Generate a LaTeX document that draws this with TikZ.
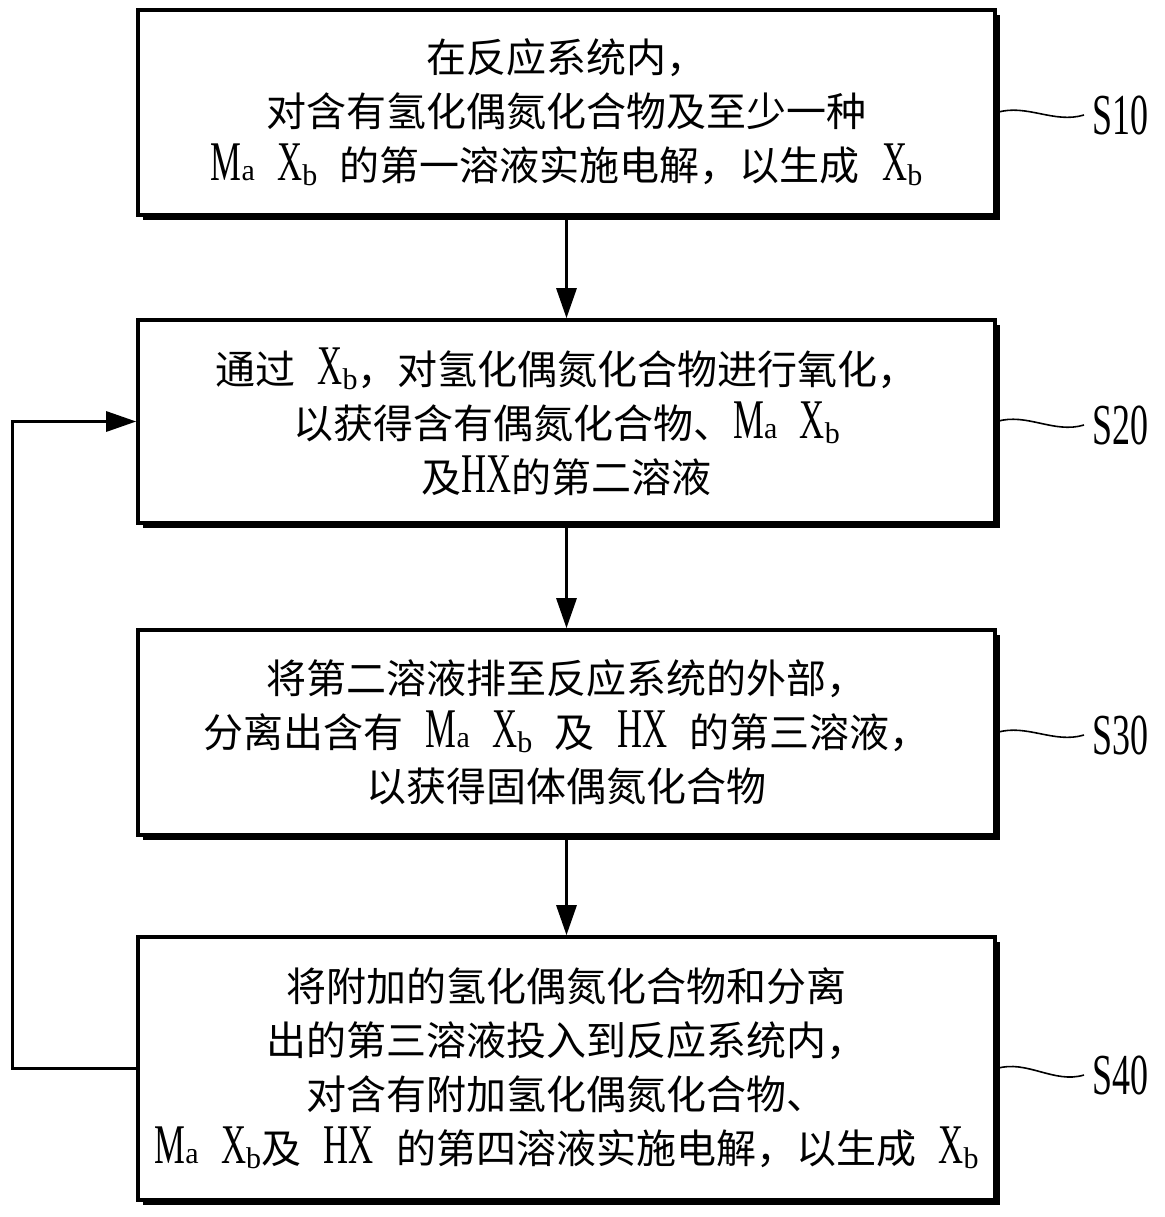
\documentclass[tikz,border=0pt]{standalone}
\usepackage{fontspec}
\setmainfont{Noto Sans CJK SC}[WordSpace=2.5]
\newfontfamily\latf[FakeStretch=0.62]{Liberation Serif}
\newfontfamily\labf[FakeStretch=0.62]{Liberation Serif}
\newfontfamily\latsub{Liberation Serif}
\usepackage{tikz}
\usetikzlibrary{arrows.meta}
\usetikzlibrary{shadows}
\usetikzlibrary{positioning}
\tikzset{>={Triangle[length=15pt,width=10pt]}}
\tikzset{stepbox/.style = {rectangle, draw=black, line width=1.8pt, fill=white, minimum width=428.5pt, inner sep=0pt, align=center, font=\fontsize{20}{27}\selectfont, drop shadow={shadow xshift=2.5pt, shadow yshift=-2.5pt, fill=black, opacity=1}}}
\tikzset{steplabel/.style = {anchor=west, inner xsep=4pt, inner ysep=0pt, font=\labf\fontsize{29}{29}\selectfont}}
\tikzset{flow/.style = {->, line width=1.5pt}}
\tikzset{wave/.style = {line width=0.8pt}}
\newcommand{\Ma}{{\latf\fontsize{28}{28}\selectfont M\latsub\fontsize{15}{15}\selectfont a}}
\newcommand{\Xb}{{\latf\fontsize{28}{28}\selectfont X\raisebox{-2.5pt}{\latsub\fontsize{15}{15}\selectfont b}}}
\newcommand{\HX}{{\latf\fontsize{28}{28}\selectfont HX}}

\begin{document}
\begin{tikzpicture}[x=0.5pt, y=-0.5pt]
\useasboundingbox (0, 0) rectangle (1164, 1217);
\node [stepbox, minimum height=102.5pt] (b1) at (566.5, 112.5) {在反应系统内，\\对含有氢化偶氮化合物及至少一种\\\Ma{} \Xb{} 的第一溶液实施电解，以生成 \Xb{}};
\node [stepbox, minimum height=101.5pt] (b2) at (566.5, 421.5) {通过 \Xb{}，对氢化偶氮化合物进行氧化，\\以获得含有偶氮化合物、\Ma{} \Xb{}\\及\HX{}的第二溶液};
\node [stepbox, minimum height=102.5pt] (b3) at (566.5, 732.5) {将第二溶液排至反应系统的外部，\\分离出含有 \Ma{} \Xb{} 及 \HX{} 的第三溶液，\\以获得固体偶氮化合物};
\node [stepbox, minimum height=131.5pt] (b4) at (566.5, 1068.5) {将附加的氢化偶氮化合物和分离\\出的第三溶液投入到反应系统内，\\对含有附加氢化偶氮化合物、\\\Ma{} \Xb{}及 \HX{} 的第四溶液实施电解，以生成 \Xb{}};
\node [steplabel] (l1) at (1084, 115) {S10};
\node [steplabel] (l2) at (1084, 425) {S20};
\node [steplabel] (l3) at (1084, 735) {S30};
\node [steplabel] (l4) at (1084, 1075) {S40};
\coordinate (lft) at (12, 1068.5);
\draw [flow] (b1) -- (b2);
\draw [flow] (b2) -- (b3);
\draw [flow] (b3) -- (b4);
\draw [flow] (b4.west) -- (lft) |- (b2.west);
\draw [wave] (b1.east) .. controls +(30, -9) and +(-30, 9) .. (l1.west);
\draw [wave] (b2.east) .. controls +(30, -9) and +(-30, 9) .. (l2.west);
\draw [wave] (b3.east) .. controls +(30, -9) and +(-30, 9) .. (l3.west);
\draw [wave] (b4.east) .. controls +(30, -9) and +(-30, 9) .. (l4.west);
\end{tikzpicture}
\end{document}
